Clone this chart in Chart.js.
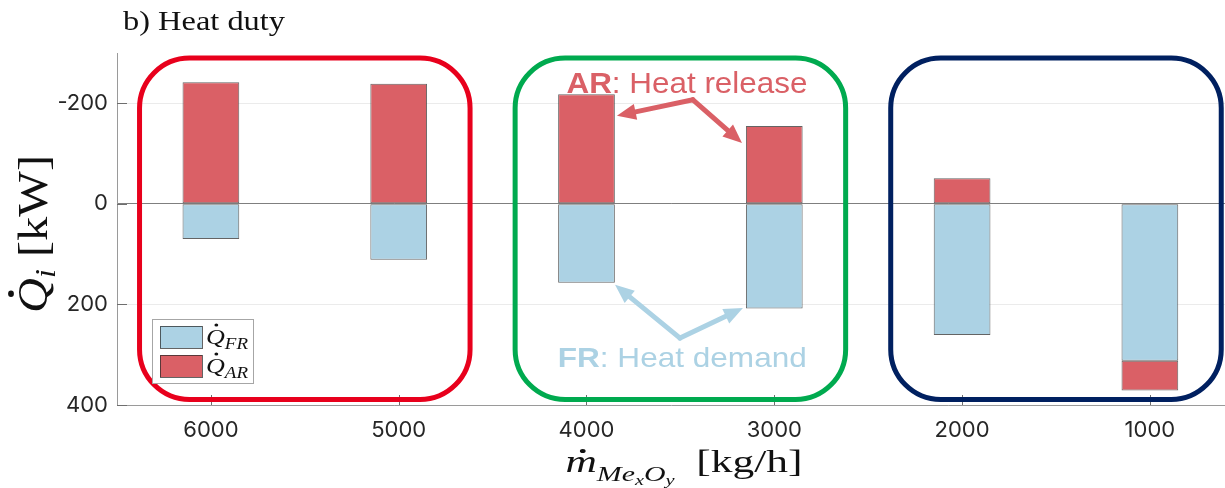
<!DOCTYPE html>
<html>
<head>
<meta charset="utf-8">
<script src="https://cdn.jsdelivr.net/npm/chart.js@4.4.1/dist/chart.umd.min.js"></script>
<style>
    html, body { margin: 0; padding: 0; background: #fff; overflow: hidden; }
    #wrap { width: 1225px; height: 488px; position: relative; }
</style>
</head>
<body>
<div id="wrap"><canvas id="heat-duty-chart"></canvas></div>
<script>
// mass flow of oxygen carrier [kg/h] and heat duties [kW] (negative = released)
const massFlows = [6000, 5000, 4000, 3000, 2000, 1000];
const qFR = [70, 111, 157, 208, 261, 312];
const qAR = [-242, -239, -218, -155, -51, 59];
const yTickValues = [-200, 0, 200, 400];
const boxGroups = [[6000, 5000], [4000, 3000], [2000, 1000]];

const frColor = '#acd2e4';
const arColor = '#da6066';
const barBorder = 'rgba(40,40,40,0.72)';
const boxColors = ['#e8001c', '#00aa4f', '#002060'];
const serif = '"Liberation Serif", "Times New Roman", serif';
const sans = '"Liberation Sans", Arial, Helvetica, sans-serif';

// annotation anchors, in axis units
const notes = {
    release: { at: [3465, -221], from: [3433, -207], tips: [[3838, -175], [3172, -121]] },
    demand: { at: [3490, 324], from: [3502, 267], tips: [[3848, 161], [3167, 207]] },
};

// draws a run of text pieces (for sub/superscripts), stretched to a given width
function drawRich(ctx, parts, o) {
    let w = 0;
    parts.forEach(p => { ctx.font = p.font; p.w = ctx.measureText(p.t).width; w += p.w; });
    const sx = o.width ? o.width / w : 1;
    ctx.save();
    ctx.translate(o.x, o.y);
    if (o.rotate) ctx.rotate(o.rotate);
    ctx.scale(sx, o.sy || 1);
    ctx.fillStyle = o.color;
    ctx.textAlign = 'left';
    ctx.textBaseline = 'alphabetic';
    let px = o.align === 'left' ? 0 : -w / 2;
    parts.forEach(p => {
        ctx.font = p.font;
        ctx.fillText(p.t, px, p.dy || 0);
        if (p.dot) {
            ctx.beginPath();
            ctx.arc(px + p.w * p.dot[0], p.dot[1], p.dot[2], 0, Math.PI * 2);
            ctx.fill();
        }
        px += p.w;
    });
    ctx.restore();
}

function roundBox(ctx, x, y, w, h, r) {
    ctx.beginPath();
    ctx.moveTo(x + r, y);
    ctx.arcTo(x + w, y, x + w, y + h, r);
    ctx.arcTo(x + w, y + h, x, y + h, r);
    ctx.arcTo(x, y + h, x, y, r);
    ctx.arcTo(x, y, x + w, y, r);
    ctx.closePath();
    ctx.stroke();
}

function arrow(ctx, x0, y0, x1, y1, color) {
    const a = Math.atan2(y1 - y0, x1 - x0);
    const len = 19, hw = 8;
    const bx = x1 - len * Math.cos(a), by = y1 - len * Math.sin(a);
    ctx.strokeStyle = color;
    ctx.fillStyle = color;
    ctx.lineWidth = 5;
    ctx.lineCap = 'round';
    ctx.beginPath();
    ctx.moveTo(x0, y0);
    ctx.lineTo(bx, by);
    ctx.stroke();
    ctx.beginPath();
    ctx.moveTo(x1, y1);
    ctx.lineTo(bx + hw * Math.sin(a), by - hw * Math.cos(a));
    ctx.lineTo(bx - hw * Math.sin(a), by + hw * Math.cos(a));
    ctx.closePath();
    ctx.fill();
}

const overlayPlugin = {
    id: 'overlay',
    afterDraw(chart) {
        const { ctx, chartArea: area, scales: { x, y } } = chart;
        ctx.save();

        // inward tick marks
        ctx.strokeStyle = '#6e6e6e';
        ctx.lineWidth = 1;
        ctx.beginPath();
        yTickValues.forEach(v => {
            const py = Math.round(y.getPixelForValue(v)) + 0.5;
            ctx.moveTo(area.left, py);
            ctx.lineTo(area.left + 10, py);
        });
        massFlows.forEach(v => {
            const px = Math.round(x.getPixelForValue(v)) + 0.5;
            ctx.moveTo(px, area.bottom);
            ctx.lineTo(px, area.bottom - 10);
        });
        ctx.stroke();

        // rounded frames round each pair of cases
        boxGroups.forEach((g, i) => {
            const mid = (g[0] + g[1]) / 2;
            const left = x.getPixelForValue(mid + 880);
            const right = x.getPixelForValue(mid - 880);
            const top = y.getPixelForValue(-290);
            const bottom = y.getPixelForValue(389);
            ctx.strokeStyle = boxColors[i];
            ctx.lineWidth = 5;
            roundBox(ctx, left, top, right - left, bottom - top, 50);
        });

        // arrows and labels
        [['release', arColor], ['demand', frColor]].forEach(([key, color]) => {
            const n = notes[key];
            const fx = x.getPixelForValue(n.from[0]), fy = y.getPixelForValue(n.from[1]);
            n.tips.forEach(t => arrow(ctx, fx, fy, x.getPixelForValue(t[0]), y.getPixelForValue(t[1]), color));
        });
        drawRich(ctx, [
            { t: 'AR', font: 'bold 29px ' + sans },
            { t: ': Heat release', font: '29px ' + sans },
        ], { x: x.getPixelForValue(notes.release.at[0]), y: y.getPixelForValue(notes.release.at[1]), width: 241, color: arColor });
        drawRich(ctx, [
            { t: 'FR', font: 'bold 28px ' + sans },
            { t: ': Heat demand', font: '28px ' + sans },
        ], { x: x.getPixelForValue(notes.demand.at[0]), y: y.getPixelForValue(notes.demand.at[1]), width: 249, color: frColor });

        // legend
        const lx = area.left + 35, ly = area.bottom - 86;
        ctx.fillStyle = '#fff';
        ctx.fillRect(lx, ly, 101, 64);
        ctx.strokeStyle = '#a6a6a6';
        ctx.lineWidth = 1;
        ctx.strokeRect(lx + 0.5, ly + 0.5, 101, 64);
        chart.data.datasets.forEach((ds, i) => {
            const sy = ly + 7 + i * 29;
            ctx.fillStyle = ds.backgroundColor;
            ctx.fillRect(lx + 8, sy, 42, 22);
            ctx.strokeStyle = barBorder;
            ctx.strokeRect(lx + 8.5, sy + 0.5, 42, 22);
            drawRich(ctx, [
                { t: 'Q', font: 'italic 22px ' + serif, dot: [0.55, -19, 1.6] },
                { t: ds.label, font: 'italic 16px ' + serif, dy: 5 },
            ], { x: lx + 54, y: sy + 18, width: 42, align: 'left', color: '#111' });
        });

        // title and axis titles
        drawRich(ctx, [{ t: 'b) Heat duty', font: '28px ' + serif }],
            { x: 123, y: 30, width: 162, align: 'left', color: '#111' });
        drawRich(ctx, [
            { t: 'm', font: 'italic 32px ' + serif, dot: [0.55, -21, 2.1] },
            { t: 'Me', font: 'italic 22px ' + serif, dy: 9 },
            { t: 'x', font: 'italic 15px ' + serif, dy: 13 },
            { t: 'O', font: 'italic 22px ' + serif, dy: 9 },
            { t: 'y', font: 'italic 15px ' + serif, dy: 13 },
            { t: '  [kg/h]', font: '32px ' + serif },
        ], { x: (area.left + area.right) / 2 + 13, y: 472, width: 237, color: '#111' });
        drawRich(ctx, [
            { t: 'Q', font: 'italic 36px ' + serif, dot: [0.55, -30, 2.4] },
            { t: 'i', font: 'italic 24px ' + serif, dy: 7 },
            { t: ' [kW]', font: '36px ' + serif },
        ], { x: 47, y: 234, width: 158, rotate: -Math.PI / 2, sy: 1.2, color: '#111' });

        ctx.restore();
    }
};

const ctx = document.getElementById('heat-duty-chart').getContext('2d');
const heatDutyChart = new Chart(ctx, {
    type: 'bar',
    data: {
        labels: massFlows,
        datasets: [
            {
                label: 'FR',
                data: qFR,
                backgroundColor: frColor,
                borderColor: barBorder,
                borderWidth: 1,
                borderSkipped: false,
            },
            {
                label: 'AR',
                data: qAR,
                backgroundColor: arColor,
                borderColor: barBorder,
                borderWidth: 1,
                borderSkipped: false,
            },
        ]
    },
    options: {
        responsive: true,
        maintainAspectRatio: false,
        animation: false,
        categoryPercentage: 0.302,
        barPercentage: 1,
        layout: { padding: { top: 53, left: 0, right: 0, bottom: 0 } },
        plugins: {
            legend: { display: false },
            tooltip: { enabled: false },
        },
        scales: {
            x: {
                type: 'linear',
                reverse: true,
                stacked: true,
                offset: false,
                min: 600,
                max: 6500,
                afterBuildTicks: scale => { scale.ticks = massFlows.map(v => ({ value: v })); },
                afterFit: scale => { scale.height = 83; },
                grid: { display: false, drawTicks: false },
                border: { display: true, color: '#9a9a9a', width: 1 },
                ticks: {
                    callback: v => String(v),
                    color: '#262626',
                    font: { family: 'Inter', size: 22 },
                    padding: 12,
                    maxRotation: 0,
                },
            },
            y: {
                reverse: true,
                stacked: true,
                min: -300,
                max: 400,
                afterBuildTicks: scale => { scale.ticks = yTickValues.map(v => ({ value: v })); },
                afterFit: scale => { scale.width = 117; },
                grid: {
                    drawTicks: false,
                    color: c => (c.tick && c.tick.value === 0) ? 'rgba(0,0,0,0.5)' : 'rgba(0,0,0,0.08)',
                },
                border: { display: true, color: '#9a9a9a', width: 1 },
                ticks: {
                    callback: v => String(v),
                    color: '#262626',
                    font: { family: 'Inter', size: 22 },
                    padding: 9,
                },
            },
        },
    },
    plugins: [overlayPlugin],
});
</script>
</body>
</html>
